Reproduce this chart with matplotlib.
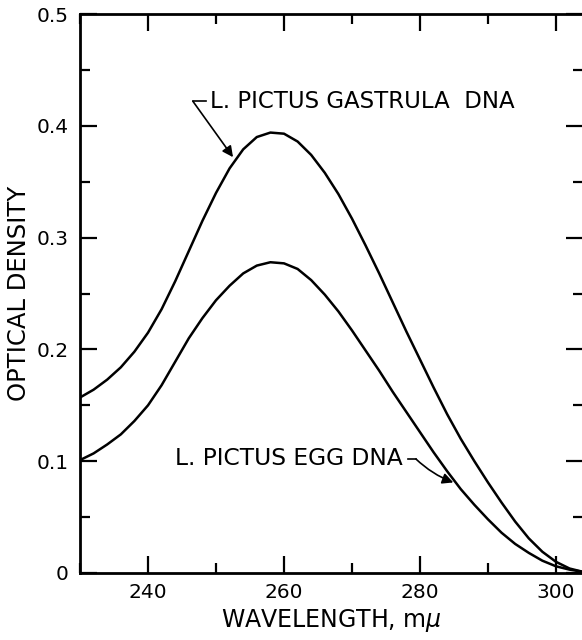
import matplotlib.pyplot as plt
from matplotlib.ticker import MultipleLocator

# ---- data ----
wavelength = [230, 232, 234, 236, 238, 240, 242, 244, 246, 248, 250, 252, 254,
              256, 258, 260, 262, 264, 266, 268, 270, 272, 274, 276, 278, 280,
              282, 284, 286, 288, 290, 292, 294, 296, 298, 300, 302, 304]
gastrula_od = [0.157, 0.164, 0.173, 0.184, 0.198, 0.215, 0.236, 0.261, 0.288,
               0.315, 0.340, 0.362, 0.379, 0.390, 0.394, 0.393, 0.386, 0.374,
               0.358, 0.339, 0.317, 0.293, 0.268, 0.242, 0.216, 0.191, 0.166,
               0.142, 0.120, 0.100, 0.081, 0.063, 0.046, 0.031, 0.019, 0.010,
               0.004, 0.001]
egg_od = [0.101, 0.107, 0.115, 0.124, 0.136, 0.150, 0.168, 0.189, 0.210, 0.228,
          0.244, 0.257, 0.268, 0.275, 0.278, 0.277, 0.272, 0.262, 0.249, 0.234,
          0.217, 0.199, 0.181, 0.162, 0.144, 0.126, 0.108, 0.091, 0.075, 0.061,
          0.048, 0.036, 0.026, 0.018, 0.011, 0.006, 0.003, 0.001]

x_ticks = [240, 260, 280, 300]
y_ticks = [0, 0.1, 0.2, 0.3, 0.4, 0.5]
y_tick_labels = ["0", "0.1", "0.2", "0.3", "0.4", "0.5"]

FONT = "DejaVu Sans"

fig = plt.figure(figsize=(5.82, 6.4), dpi=100)
ax = fig.add_axes([0.1375, 0.1047, 0.8645, 0.8733])

ax.plot(wavelength, gastrula_od, color="black", lw=1.8, solid_joinstyle="round")
ax.plot(wavelength, egg_od, color="black", lw=1.8, solid_joinstyle="round")

ax.set_xlim(230, 304)
ax.set_ylim(0, 0.5)

ax.set_xticks(x_ticks)
ax.xaxis.set_minor_locator(MultipleLocator(10))
ax.set_yticks(y_ticks)
ax.set_yticklabels(y_tick_labels)
ax.yaxis.set_minor_locator(MultipleLocator(0.05))

ax.tick_params(which="both", direction="in", top=True, right=True,
               width=1.6, labelsize=14.5, colors="black")
ax.tick_params(which="major", length=12)
ax.tick_params(which="minor", length=7)
ax.tick_params(axis="x", pad=7)
ax.tick_params(axis="y", pad=8)
for lab in ax.get_xticklabels() + ax.get_yticklabels():
    lab.set_family(FONT)

for sp in ax.spines.values():
    sp.set_linewidth(2.0)

ax.set_xlabel("WAVELENGTH, m$\\mu$", fontsize=17, family=FONT, labelpad=4)
ax.set_ylabel("OPTICAL DENSITY", fontsize=17.5, family=FONT, labelpad=4)

# gastrula label + leader
ax.text(249.1, 0.422, "L. PICTUS GASTRULA  DNA", fontsize=16.5, family=FONT,
        va="center", ha="left")
ax.plot([246.6, 248.6], [0.422, 0.422], color="black", lw=1.2)
ax.annotate("", xy=(252.5, 0.372), xytext=(246.6, 0.422),
            arrowprops=dict(arrowstyle="-|>", color="black", lw=1.2,
                            mutation_scale=16, shrinkA=0, shrinkB=0))

# egg label + leader
ax.text(244.0, 0.102, "L. PICTUS EGG DNA", fontsize=16.8, family=FONT,
        va="center", ha="left")
ax.plot([278.3, 279.4], [0.102, 0.102], color="black", lw=1.2)
ax.annotate("", xy=(284.9, 0.081), xytext=(279.4, 0.102),
            arrowprops=dict(arrowstyle="-|>", color="black", lw=1.2,
                            mutation_scale=16, shrinkA=0, shrinkB=0,
                            connectionstyle="arc3,rad=0.1"))

fig.savefig("out.png", dpi=100)
